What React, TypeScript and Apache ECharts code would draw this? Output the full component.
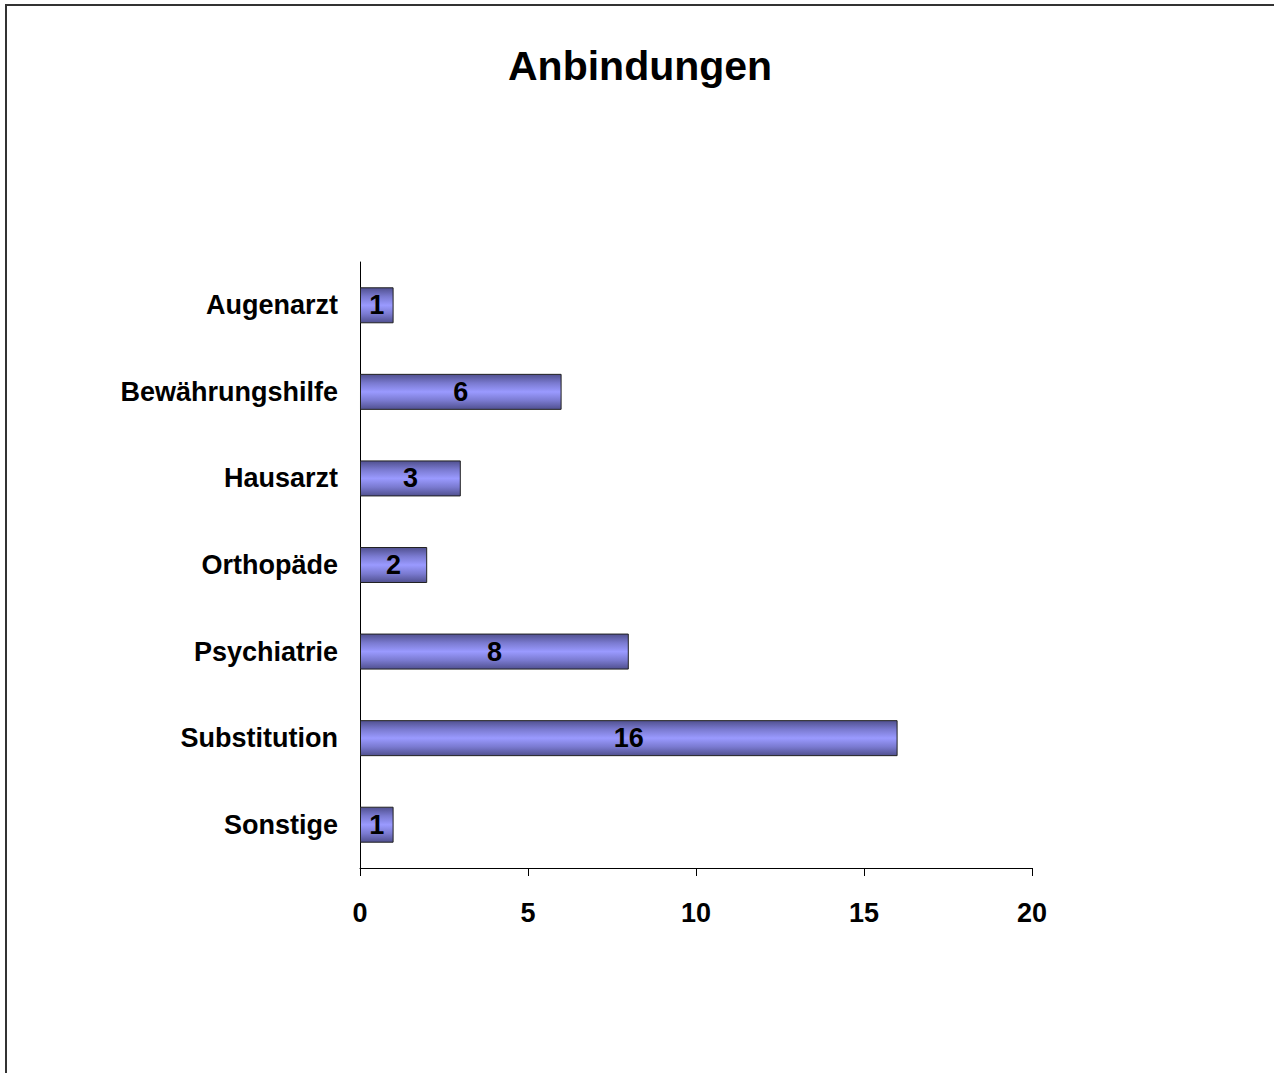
import React, { useEffect, useRef } from "react";
import * as echarts from "echarts";

const categories = [
  "Augenarzt",
  "Bewährungshilfe",
  "Hausarzt",
  "Orthopäde",
  "Psychiatrie",
  "Substitution",
  "Sonstige",
];
const values = [1, 6, 3, 2, 8, 16, 1];
const titleText = "Anbindungen";
const axisMin = 0;
const axisMax = 20;
const axisInterval = 5;

const FONT = "'Liberation Sans', Arial, sans-serif";

export default function App() {
  const ref = useRef<HTMLDivElement>(null);
  useEffect(() => {
    document.body.style.margin = "0";
    const chart = echarts.init(ref.current!, null, { renderer: "svg" });
    chart.setOption({
      animation: false,
      backgroundColor: "#ffffff",
      title: {
        text: titleText,
        left: 503,
        top: 40,
        textStyle: { fontFamily: FONT, fontWeight: "bold", fontSize: 41, color: "#000" },
      },
      graphic: [
        {
          type: "rect",
          shape: { x: 6, y: 5, width: 1400, height: 1200 },
          style: { fill: "none", stroke: "#333", lineWidth: 2 },
          silent: true,
        },
      ],
      grid: { left: 360, right: 242, top: 262, bottom: 205, containLabel: false },
      xAxis: {
        type: "value",
        min: axisMin,
        max: axisMax,
        interval: axisInterval,
        axisLine: { show: true, lineStyle: { color: "#000", width: 1 } },
        axisTick: { show: true, length: 8, lineStyle: { color: "#000" } },
        splitLine: { show: false },
        axisLabel: {
          margin: 31,
          fontFamily: FONT,
          fontWeight: "bold",
          fontSize: 27,
          color: "#000",
        },
      },
      yAxis: {
        type: "category",
        data: categories,
        inverse: true,
        axisLine: { show: true, lineStyle: { color: "#000", width: 1 } },
        axisTick: { show: false },
        axisLabel: {
          margin: 22,
          fontFamily: FONT,
          fontWeight: "bold",
          fontSize: 27,
          color: "#000",
        },
      },
      series: [
        {
          type: "bar",
          data: values,
          barWidth: 36,
          itemStyle: {
            color: new echarts.graphic.LinearGradient(0, 0, 0, 1, [
              { offset: 0, color: "#50508f" },
              { offset: 0.25, color: "#7a7ad0" },
              { offset: 0.5, color: "#9a9aff" },
              { offset: 0.75, color: "#7a7ad0" },
              { offset: 1, color: "#50508f" },
            ]),
            borderColor: "#222",
            borderWidth: 1,
          },
          label: {
            show: true,
            position: "inside",
            fontFamily: FONT,
            fontWeight: "bold",
            fontSize: 27,
            color: "#000",
          },
        },
      ],
    });
    return () => chart.dispose();
  }, []);
  return (
    <div
      ref={ref}
      style={{ position: "absolute", left: 0, top: 0, width: 1274, height: 1073 }}
    />
  );
}
